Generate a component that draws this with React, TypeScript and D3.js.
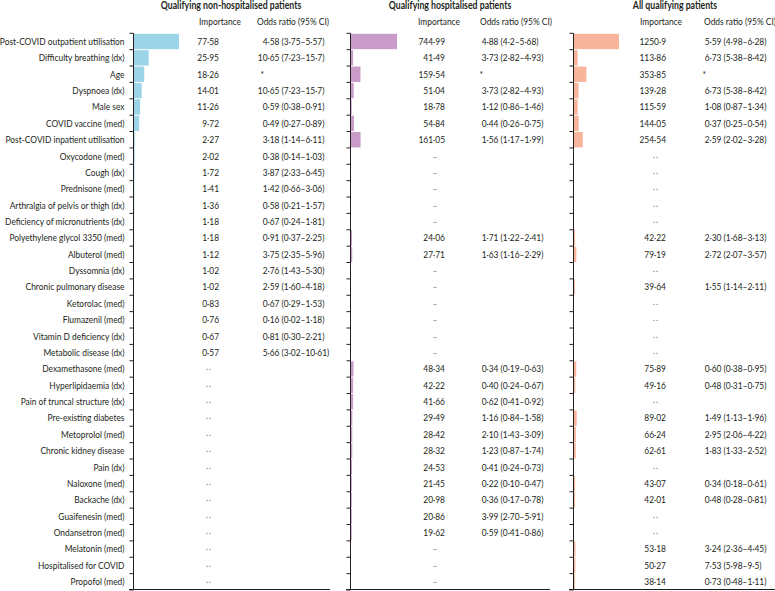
import React from "react";
import * as d3 from "d3";

const labels = [
  "Post-COVID outpatient utilisation", "Difficulty breathing (dx)", "Age", "Dyspnoea (dx)", "Male sex",
  "COVID vaccine (med)", "Post-COVID inpatient utilisation", "Oxycodone (med)", "Cough (dx)", "Prednisone (med)",
  "Arthralgia of pelvis or thigh (dx)", "Deficiency of micronutrients (dx)", "Polyethylene glycol 3350 (med)",
  "Albuterol (med)", "Dyssomnia (dx)", "Chronic pulmonary disease", "Ketorolac (med)", "Flumazenil (med)",
  "Vitamin D deficiency (dx)", "Metabolic disease (dx)", "Dexamethasone (med)", "Hyperlipidaemia (dx)",
  "Pain of truncal structure (dx)", "Pre-existing diabetes", "Metoprolol (med)", "Chronic kidney disease",
  "Pain (dx)", "Naloxone (med)", "Backache (dx)", "Guaifenesin (med)", "Ondansetron (med)", "Melatonin (med)",
  "Hospitalised for COVID", "Propofol (med)",
];

const N = null;
const impNonHosp = [77.58, 25.95, 18.26, 14.01, 11.26, 9.72, 2.27, 2.02, 1.72, 1.41, 1.36, 1.18, 1.18, 1.12, 1.02, 1.02, 0.83, 0.76, 0.67, 0.57, N, N, N, N, N, N, N, N, N, N, N, N, N, N];
const orNonHosp = ["4·58 (3·75–5·57)", "10·65 (7·23–15·7)", "*", "10·65 (7·23–15·7)", "0·59 (0·38–0·91)", "0·49 (0·27–0·89)", "3·18 (1·14–6·11)", "0·38 (0·14–1·03)", "3·87 (2·33–6·45)", "1·42 (0·66–3·06)", "0·58 (0·21–1·57)", "0·67 (0·24–1·81)", "0·91 (0·37–2·25)", "3·75 (2·35–5·96)", "2·76 (1·43–5·30)", "2·59 (1·60–4·18)", "0·67 (0·29–1·53)", "0·16 (0·02–1·18)", "0·81 (0·30–2·21)", "5·66 (3·02–10·61)", "", "", "", "", "", "", "", "", "", "", "", "", "", ""];

const impHosp = [744.99, 41.49, 159.54, 51.04, 18.78, 54.84, 161.05, N, N, N, N, N, 24.06, 27.71, N, N, N, N, N, N, 48.34, 42.22, 41.66, 29.49, 28.42, 28.32, 24.53, 21.45, 20.98, 20.86, 19.62, N, N, N];
const orHosp = ["4·88 (4·2–5·68)", "3·73 (2·82–4·93)", "*", "3·73 (2·82–4·93)", "1·12 (0·86–1·46)", "0·44 (0·26–0·75)", "1·56 (1·17–1·99)", "", "", "", "", "", "1·71 (1·22–2·41)", "1·63 (1·16–2·29)", "", "", "", "", "", "", "0·34 (0·19–0·63)", "0·40 (0·24–0·67)", "0·62 (0·41–0·92)", "1·16 (0·84–1·58)", "2·10 (1·43–3·09)", "1·23 (0·87–1·74)", "0·41 (0·24–0·73)", "0·22 (0·10–0·47)", "0·36 (0·17–0·78)", "3·99 (2·70–5·91)", "0·59 (0·41–0·86)", "", "", ""];

const impAll = [1250.9, 113.86, 353.85, 139.28, 115.59, 144.05, 254.54, N, N, N, N, N, 42.22, 79.19, N, 39.64, N, N, N, N, 75.89, 49.16, N, 89.02, 66.24, 62.61, N, 43.07, 42.01, N, N, 53.18, 50.27, 38.14];
const orAll = ["5·59 (4·98–6·28)", "6·73 (5·38–8·42)", "*", "6·73 (5·38–8·42)", "1·08 (0·87–1·34)", "0·37 (0·25–0·54)", "2·59 (2·02–3·28)", "", "", "", "", "", "2·30 (1·68–3·13)", "2·72 (2·07–3·57)", "", "1·55 (1·14–2·11)", "", "", "", "", "0·60 (0·38–0·95)", "0·48 (0·31–0·75)", "", "1·49 (1·13–1·96)", "2·95 (2·06–4·22)", "1·83 (1·33–2·52)", "", "0·34 (0·18–0·61)", "0·48 (0·28–0·81)", "", "", "3·24 (2·36–4·45)", "7·53 (5·98–9·5)", "0·73 (0·48–1·11)"];

const panelTitles = ["Qualifying non-hospitalised patients", "Qualifying hospitalised patients", "All qualifying patients"];
const placeholders = ["..", "–", ".."];

const FONT = "Lato, 'Open Sans', sans-serif";
const SX = 0.84;
const TXT = "#231f20";

const panels = [
  { title: panelTitles[0], imp: impNonHosp, or: orNonHosp, ph: placeholders[0], color: "#9dd5e8",
    axisX: 133.5, barW: 45.5, titleX: 231, impHX: 220, impR: 219, phX: 209, orDot: 267.5, orHX: 257, lineL: 129, lineR: 330 },
  { title: panelTitles[1], imp: impHosp, or: orHosp, ph: placeholders[1], color: "#c99bc9",
    axisX: 350.5, barW: 46.5, titleX: 450, impHX: 439, impR: 445, phX: 435, orDot: 486.5, orHX: 480, lineL: 346, lineR: 550 },
  { title: panelTitles[2], imp: impAll, or: orAll, ph: placeholders[2], color: "#f9b59c",
    axisX: 573.5, barW: 45.5, titleX: 675, impHX: 661, impR: 666, phX: 656, orDot: 709.5, orHX: 704, lineL: 569, lineR: 775 },
];

function T({ x, y, anchor = "start", weight = 400, size = 10, fill = TXT, spacing = 0, children }: any) {
  return (
    <text transform={`translate(${x},${y}) scale(${SX},1)`} textAnchor={anchor} fontFamily={FONT}
      fontSize={size} fontWeight={weight} fill={fill} letterSpacing={spacing}>{children}</text>
  );
}

export default function App() {
  const y = d3.scaleBand<number>().domain(d3.range(labels.length)).range([33.3, 590]).paddingInner(0.06).paddingOuter(0.03);
  const step = y.step();
  const boundaries = d3.range(labels.length + 1).map((i) => 33.3 + i * step);
  const fmt = (v: number) => String(v).replace(".", "·");

  return (
    <svg width={775} height={591} style={{ position: "absolute", left: 0, top: 0, background: "#fff" }}>
      {labels.map((l, i) => (
        <T key={l} x={124.5} y={33.3 + (i + 0.5) * step + 3.4} anchor="end">{l}</T>
      ))}
      {panels.map((p, pi) => {
        const x = d3.scaleLinear().domain([0, d3.max(p.imp as number[]) as number]).range([0, p.barW]);
        return (
          <g key={pi}>
            <T x={p.titleX} y={8.5} anchor="middle" weight={700} size={10.4}>{p.title}</T>
            <T x={p.impHX} y={24.5} anchor="middle">Importance</T>
            <T x={p.orHX} y={24.5}>Odds ratio (95% CI)</T>
            {p.imp.map((v, i) =>
              v == null ? null : (
                <rect key={"b" + i} x={p.axisX} y={y(i)} width={x(v)} height={y.bandwidth()} fill={p.color} />
              )
            )}
            <line x1={p.axisX} x2={p.axisX} y1={33.3} y2={590} stroke="#231f20" strokeWidth={1} />
            {boundaries.map((b, i) => (
              <line key={"t" + i} x1={p.axisX - 4} x2={p.axisX} y1={b} y2={b} stroke="#231f20" strokeWidth={1} />
            ))}
            <line x1={p.lineL} x2={p.lineR} y1={589.5} y2={589.5} stroke="#231f20" strokeWidth={1} />
            {p.imp.map((v, i) => {
              const ty = 33.3 + (i + 0.5) * step + 3.4;
              return v == null ? (
                p.ph === ".." ? (
                  <T key={"i" + i} x={p.phX} y={ty - 2} anchor="middle" fill="#666" spacing={1.2}>{p.ph}</T>
                ) : (
                  <T key={"i" + i} x={p.phX} y={ty} anchor="middle" fill="#888">{p.ph}</T>
                )
              ) : (
                <T key={"i" + i} x={p.impR} y={ty} anchor="end">{fmt(v)}</T>
              );
            })}
            {p.or.map((s, i) => {
              if (!s) return null;
              const ty = 33.3 + (i + 0.5) * step + 3.4;
              if (s === "*") return <T key={"o" + i} x={p.orDot - 7} y={ty}>*</T>;
              const k = s.indexOf("·");
              return (
                <g key={"o" + i}>
                  <T x={p.orDot} y={ty} anchor="end">{s.slice(0, k)}</T>
                  <T x={p.orDot} y={ty}>{s.slice(k)}</T>
                </g>
              );
            })}
          </g>
        );
      })}
    </svg>
  );
}
